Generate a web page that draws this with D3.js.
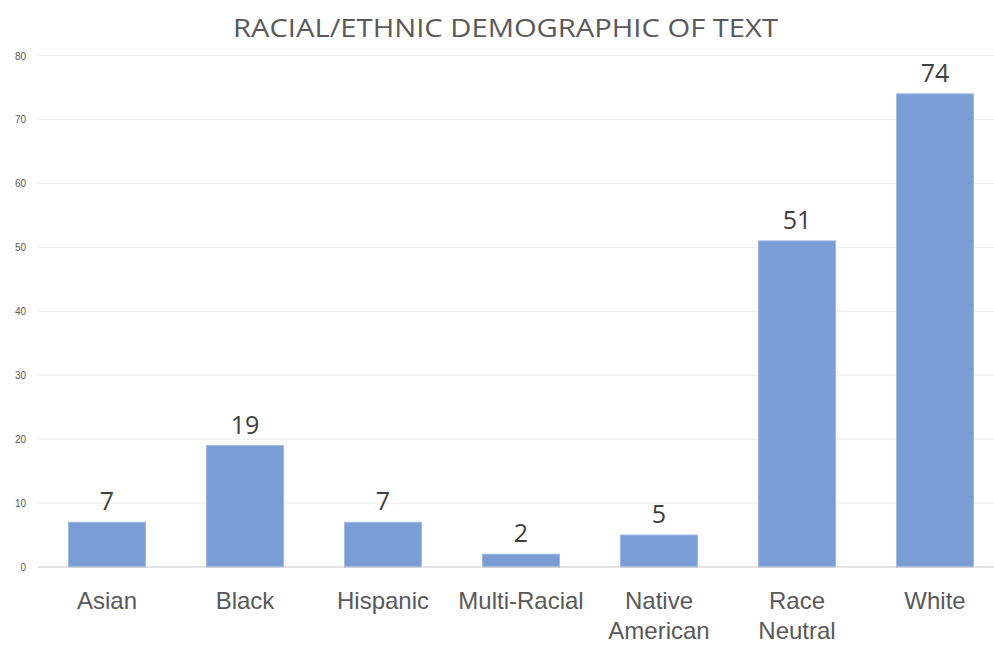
<!DOCTYPE html>
<html>
<head>
<meta charset="utf-8">
<script src="https://cdn.jsdelivr.net/npm/d3@7"></script>
<style>
  html, body { margin: 0; padding: 0; background: #fff; }
  svg { display: block; font-family: "Open Sans", "Liberation Sans", sans-serif; }
</style>
</head>
<body>
<svg id="chart" width="994" height="645"></svg>
<script>
const categories = ["Asian", "Black", "Hispanic", "Multi-Racial", "Native American", "Race Neutral", "White"];
const counts = [7, 19, 7, 2, 5, 51, 74];
const yTicks = [0, 10, 20, 30, 40, 50, 60, 70, 80];
const title = "RACIAL/ETHNIC DEMOGRAPHIC OF TEXT";

const svg = d3.select("#chart");

const x = d3.scaleBand()
  .domain(categories)
  .range([38, 1004])
  .paddingInner(0.435)
  .paddingOuter(0.2175);

const y = d3.scaleLinear().domain([0, 80]).range([567, 55.5]);

// gridlines
svg.append("g")
  .selectAll("line")
  .data(yTicks.filter(d => d > 0))
  .join("line")
  .attr("x1", 38).attr("x2", 994)
  .attr("y1", d => y(d)).attr("y2", d => y(d))
  .attr("stroke", "#ececec").attr("stroke-width", 1);

// y axis labels
const yAxis = d3.axisLeft(y).tickValues(yTicks).tickSize(0).tickPadding(0);
const yg = svg.append("g").attr("transform", "translate(26,0)").call(yAxis);
yg.select(".domain").remove();
yg.selectAll("text")
  .attr("fill", "#595959")
  .style("font-size", "10px")
  .attr("dy", "0.35em");

// bars
svg.append("g")
  .selectAll("rect")
  .data(categories)
  .join("rect")
  .attr("x", d => x(d) + 0.5)
  .attr("width", x.bandwidth() - 1)
  .attr("y", (d, i) => y(counts[i]))
  .attr("height", (d, i) => y(0) - y(counts[i]))
  .attr("fill", "#7b9dd6")
  .attr("stroke", "#9fb8e4")
  .attr("stroke-width", 1);

// baseline
svg.append("line")
  .attr("x1", 38).attr("x2", 994)
  .attr("y1", y(0)).attr("y2", y(0))
  .attr("stroke", "#c8c8c8").attr("stroke-width", 1.2);

// value labels
svg.append("g")
  .selectAll("text")
  .data(categories)
  .join("text")
  .attr("x", d => x(d) + x.bandwidth() / 2)
  .attr("y", (d, i) => y(counts[i]) - 12)
  .attr("text-anchor", "middle")
  .attr("fill", "#404040")
  .style("font-size", "25px")
  .text((d, i) => counts[i]);

// category labels, wrapped onto two lines where needed
const xAxis = d3.axisBottom(x).tickSize(0).tickPadding(0);
const xg = svg.append("g").attr("transform", `translate(0,${y(0)})`).call(xAxis);
xg.select(".domain").remove();
xg.selectAll("text")
  .attr("fill", "#595959")
  .style("font-size", "24px")
  .attr("dy", null)
  .attr("y", 0)
  .text(null)
  .each(function(d) {
    const words = (d === "Native American" || d === "Race Neutral") ? d.split(" ") : [d];
    const t = d3.select(this);
    words.forEach((w, i) => {
      t.append("tspan").attr("x", 0).attr("y", 42 + i * 30).text(w);
    });
  });

// title
svg.append("text")
  .attr("x", 505.5)
  .attr("y", 37)
  .attr("text-anchor", "middle")
  .attr("fill", "#595959")
  .attr("textLength", 545)
  .attr("lengthAdjust", "spacingAndGlyphs")
  .style("font-size", "26px")
  .text(title);
</script>
</body>
</html>
